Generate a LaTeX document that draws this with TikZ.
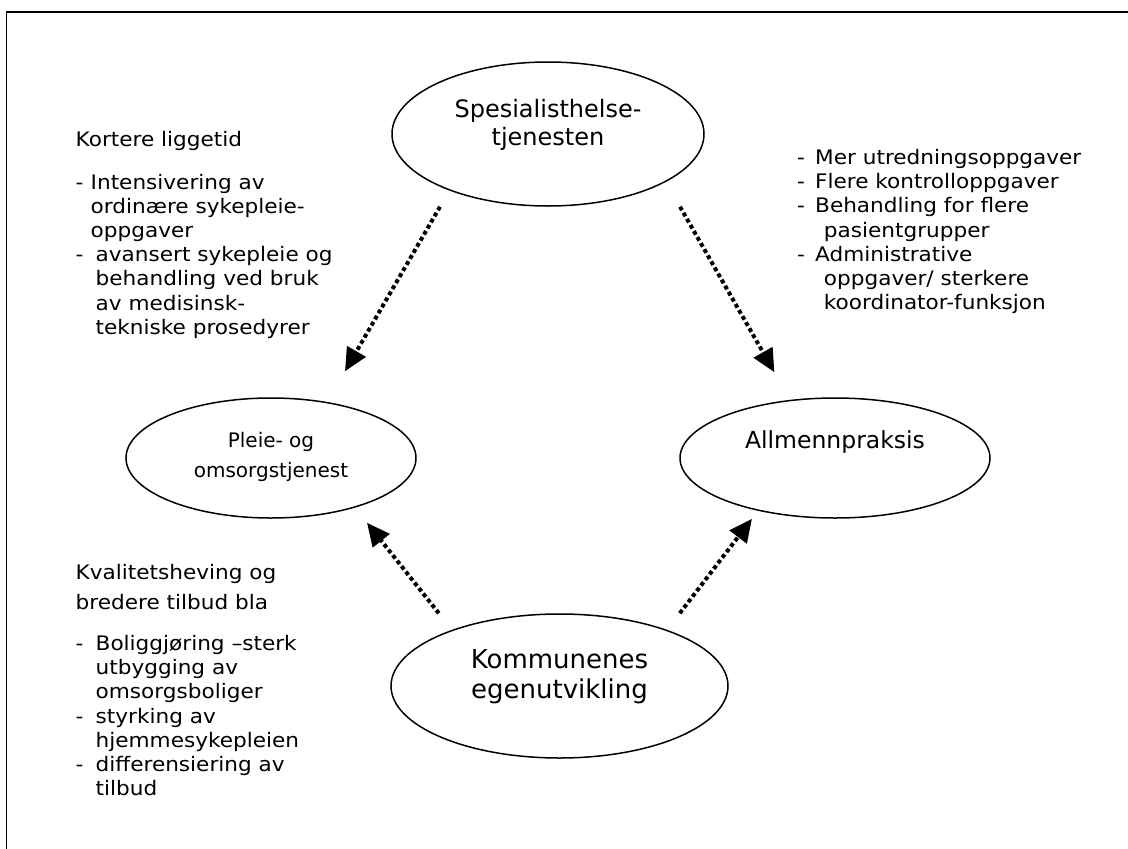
\documentclass[tikz,border=0pt]{standalone}
\usepackage{fontspec}
\setmainfont{DejaVu Sans}
\newfontfamily\listefont{DejaVu Sans}[FakeStretch=1.08]
\usetikzlibrary{arrows.meta,shapes.geometric}

\newcommand{\punkt}[2]{\makebox[#1][l]{-}#2}
\newcommand{\innrykk}[2]{\hspace*{#1}#2}

\tikzset{
  tjeneste/.style={draw, ellipse, line width=1.5pt, inner sep=0pt},
  navn/.style={align=center, inner sep=0pt},
  liste/.style={align=left, anchor=north west, inner sep=0pt,
    font=\listefont\fontsize{20}{24.2}\selectfont},
  pil/.style={line width=4pt, dash pattern=on 4pt off 3pt,
    -{Triangle[length=23pt,width=21pt]}}
}

\begin{document}
\begin{tikzpicture}[x=1pt,y=-1pt]
      \useasboundingbox (0,0) rectangle (1128,849);
      \draw[line width=1.3pt] (6.5,849) -- (6.5,12) -- (1128,12);

      \node[tjeneste, minimum width=312pt, minimum height=144pt] (spes) at (548,134) {};
      \node[navn, font=\fontsize{24}{28}\selectfont] (spesnavn) at ([yshift=9pt]spes.center)
        {Spesialisthelse-\\tjenesten};
      \node[tjeneste, minimum width=290pt, minimum height=120pt] (pleie) at (271,458) {};
      \node[navn, font=\fontsize{20}{30}\selectfont] (pleienavn) at ([yshift=1pt]pleie.center)
        {Pleie- og\\omsorgstjenest};
      \node[tjeneste, minimum width=310pt, minimum height=120pt] (allm) at (835,458) {};
      \node[navn, font=\fontsize{23.5}{28}\selectfont] (allmnavn) at ([yshift=16pt]allm.center)
        {Allmennpraksis};
      \node[tjeneste, minimum width=337pt, minimum height=144pt] (komm) at (559.5,686) {};
      \node[navn, font=\fontsize{26}{30}\selectfont] (kommnavn) at ([yshift=9pt]komm.center)
        {Kommunenes\\egenutvikling};

      \draw[pil] ([xshift=-108pt]spes.south) -- ([xshift=74pt,yshift=26pt]pleie.north);
      \draw[pil] ([xshift=132pt]spes.south) -- ([xshift=-60.6pt,yshift=25pt]allm.north);
      \draw[pil] ([xshift=-120.7pt]komm.north) -- ([xshift=96pt,yshift=-4pt]pleie.south);
      \draw[pil] ([xshift=120.3pt]komm.north) -- ([xshift=-83pt]allm.south);

      \node[liste] (liggetid) at (75.5,131) {Kortere liggetid\\[18.6pt]
        \punkt{15pt}{Intensivering av}\\
        \innrykk{15pt}{ordinære sykepleie-}\\
        \innrykk{15pt}{oppgaver}\\
        \punkt{20pt}{avansert sykepleie og}\\
        \innrykk{20pt}{behandling ved bruk}\\
        \innrykk{20pt}{av medisinsk-}\\
        \innrykk{20pt}{tekniske prosedyrer}};
      \node[liste] (oppgaver) at (797,149) {\punkt{18pt}{Mer utredningsoppgaver}\\
        \punkt{18pt}{Flere kontrolloppgaver}\\
        \punkt{18pt}{Behandling for flere}\\
        \innrykk{26.7pt}{pasientgrupper}\\
        \punkt{18pt}{Administrative}\\
        \innrykk{26.7pt}{oppgaver/ sterkere}\\
        \innrykk{26.7pt}{koordinator-funksjon}};
      \node[liste] (kvalitet) at (75.5,564) {Kvalitetsheving og\\[5.8pt]
        bredere tilbud bla\\[16.8pt]
        \punkt{20pt}{Boliggjøring –sterk}\\
        \innrykk{20pt}{utbygging av}\\
        \innrykk{20pt}{omsorgsboliger}\\
        \punkt{20pt}{styrking av}\\
        \innrykk{20pt}{hjemmesykepleien}\\
        \punkt{20pt}{differensiering av}\\
        \innrykk{20pt}{tilbud}};
    \end{tikzpicture}
\end{document}
